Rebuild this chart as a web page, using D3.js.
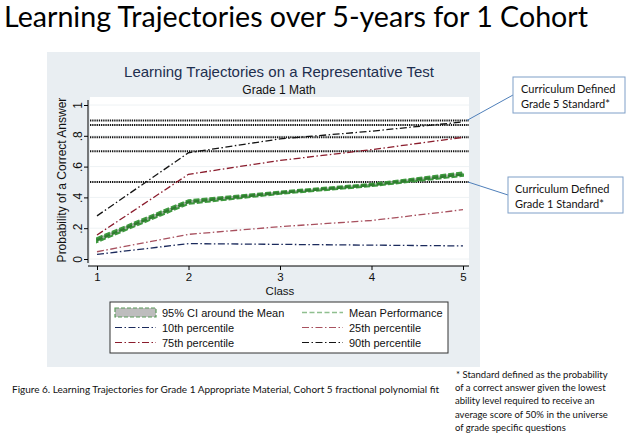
<!DOCTYPE html>
<html>
<head>
<meta charset="utf-8">
<script src="https://cdn.jsdelivr.net/npm/d3@7"></script>
<style>
  body { margin: 0; background: #fff; }
  svg { display: block; }
  .sans { font-family: "Liberation Sans", Arial, sans-serif; }
  .cal { font-family: Lato, "Open Sans", sans-serif; }
</style>
</head>
<body>
<svg id="chart" width="640" height="434"></svg>
<script>
// data
var classes = [1, 2, 3, 4, 5];
var p10 = [0.030, 0.100, 0.095, 0.090, 0.085];
var p25 = [0.047, 0.160, 0.210, 0.250, 0.320];
var meanPerf = [0.123, 0.370, 0.430, 0.480, 0.550];
var ciLow = [0.110, 0.358, 0.423, 0.473, 0.540];
var ciHigh = [0.136, 0.382, 0.438, 0.488, 0.562];
var p75 = [0.156, 0.550, 0.640, 0.710, 0.790];
var p90 = [0.280, 0.690, 0.780, 0.830, 0.890];
var standards = [0.90, 0.87, 0.79, 0.70, 0.50];
var yTicks = [0, 0.2, 0.4, 0.6, 0.8, 1];
var legendLabels = ["95% CI around the Mean", "Mean Performance", "10th percentile",
                    "25th percentile", "75th percentile", "90th percentile"];

var svg = d3.select("#chart");

// plot region
var plot = { left: 90, right: 469, top: 97, bottom: 266 };
var x = d3.scaleLinear().domain([1, 5]).range([97, 463]);
var y = d3.scaleLinear().domain([0, 1]).range([259, 105]);

// slide title
svg.append("text").attr("class", "cal")
  .attr("x", 4).attr("y", 27)
  .attr("textLength", 584).attr("lengthAdjust", "spacingAndGlyphs")
  .style("font-size", "28px").style("fill", "#000")
  .text("Learning Trajectories over 5-years for 1 Cohort");

// graph panel
svg.append("rect").attr("x", 47).attr("y", 52).attr("width", 433).attr("height", 315)
  .style("fill", "#e9eef2");
svg.append("rect").attr("x", plot.left).attr("y", plot.top)
  .attr("width", plot.right - plot.left).attr("height", plot.bottom - plot.top)
  .style("fill", "#fff");

svg.append("text").attr("class", "sans")
  .attr("x", 279).attr("y", 77).attr("text-anchor", "middle")
  .style("font-size", "15px").style("fill", "#1e2f4f")
  .text("Learning Trajectories on a Representative Test");
svg.append("text").attr("class", "sans")
  .attr("x", 279).attr("y", 94).attr("text-anchor", "middle")
  .style("font-size", "12px").style("fill", "#111")
  .text("Grade 1 Math");

// gridlines
svg.append("g").selectAll("line").data(yTicks).join("line")
  .attr("x1", plot.left).attr("x2", plot.right)
  .attr("y1", function(d) { return y(d); }).attr("y2", function(d) { return y(d); })
  .style("stroke", "#eef2f4").style("stroke-width", 1);

// axes
var yAxis = d3.axisLeft(y).tickValues(yTicks).tickSizeInner(4).tickSizeOuter(0)
  .tickFormat(function(d) { return d === 0 ? "0" : d === 1 ? "1" : d3.format(".1f")(d).replace(/^0/, ""); });
var gy = svg.append("g").attr("transform", "translate(88,0)").call(yAxis);
gy.select(".domain").remove();
gy.selectAll(".tick text").attr("class", "sans")
  .attr("x", -6.5).attr("y", 0).attr("dy", null)
  .attr("transform", "rotate(-90,-6.5,0)")
  .attr("text-anchor", "middle").style("font-size", "12px").style("fill", "#111");
svg.append("line").attr("x1", 88).attr("x2", 88).attr("y1", 100).attr("y2", 263)
  .style("stroke", "#000");

var xAxis = d3.axisBottom(x).tickValues(classes).tickSizeInner(4).tickSizeOuter(0).tickPadding(3)
  .tickFormat(d3.format("d"));
var gx = svg.append("g").attr("transform", "translate(0," + plot.bottom + ")").call(xAxis);
gx.select(".domain").remove();
gx.selectAll("text").attr("class", "sans").style("font-size", "11.5px").style("fill", "#111");
svg.append("line").attr("x1", 88).attr("x2", plot.right).attr("y1", plot.bottom).attr("y2", plot.bottom)
  .style("stroke", "#000");
svg.selectAll(".tick line").style("stroke", "#000");

svg.append("text").attr("class", "sans")
  .attr("x", 280).attr("y", 295).attr("text-anchor", "middle")
  .style("font-size", "11.5px").style("fill", "#111").text("Class");
svg.append("text").attr("class", "sans")
  .attr("transform", "translate(66,180) rotate(-90)").attr("text-anchor", "middle")
  .style("font-size", "12px").style("fill", "#111").text("Probability of a Correct Answer");

// standards reference lines
svg.append("g").selectAll("line").data(standards).join("line")
  .attr("x1", plot.left).attr("x2", plot.right)
  .attr("y1", function(d) { return y(d); }).attr("y2", function(d) { return y(d); })
  .style("stroke", "#111").style("stroke-width", 2).style("stroke-dasharray", "1.3,0.9");

// CI band + mean
var pts = function(arr) { return arr.map(function(v, i) { return [classes[i], v]; }); };
var line = d3.line().x(function(d) { return x(d[0]); }).y(function(d) { return y(d[1]); });
var area = d3.area()
  .x(function(d, i) { return x(classes[i]); })
  .y0(function(d, i) { return y(ciLow[i]); })
  .y1(function(d, i) { return y(ciHigh[i]); });

svg.append("path").datum(classes).attr("d", area)
  .style("fill", "#a8b4a8").style("stroke", "#3f9a3f").style("stroke-width", 2)
  .style("stroke-dasharray", "6,2");
svg.append("path").datum(pts(meanPerf)).attr("d", line)
  .style("fill", "none").style("stroke", "#2e7d2e").style("stroke-width", 2.5)
  .style("stroke-dasharray", "6,2");

var series = [
  { vals: p10, color: "#1b2a5c" },
  { vals: p25, color: "#a8515f" },
  { vals: p75, color: "#8a1c2c" },
  { vals: p90, color: "#141414" }
];
svg.append("g").selectAll("path").data(series).join("path")
  .attr("d", function(d) { return line(pts(d.vals)); })
  .style("fill", "none").style("stroke", function(d) { return d.color; })
  .style("stroke-width", 1.3).style("stroke-dasharray", "7,2.5,1.5,2.5");

// legend
var lg = svg.append("g");
lg.append("rect").attr("x", 110).attr("y", 302).attr("width", 338).attr("height", 51)
  .style("fill", "#fff").style("stroke", "#333").style("stroke-width", 1);
var legendItems = [
  { kind: "ci", color: "#5a9a5a" },
  { kind: "line", color: "#8fbf8f", dash: "5,2.5", w: 1.6 },
  { kind: "line", color: "#1b2a5c", dash: "7,2.5,1.5,2.5", w: 1.2 },
  { kind: "line", color: "#a8515f", dash: "7,2.5,1.5,2.5", w: 1.2 },
  { kind: "line", color: "#8a1c2c", dash: "7,2.5,1.5,2.5", w: 1.2 },
  { kind: "line", color: "#141414", dash: "7,2.5,1.5,2.5", w: 1.2 }
];
legendItems.forEach(function(it, i) {
  var col = i % 2, row = Math.floor(i / 2);
  var sx = col === 0 ? 115 : 302, cy = 312.5 + row * 15;
  if (it.kind === "ci") {
    lg.append("rect").attr("x", sx).attr("y", cy - 4.5).attr("width", 41).attr("height", 9)
      .style("fill", "#bdbdbd").style("stroke", it.color).style("stroke-width", 1.2)
      .style("stroke-dasharray", "4,2");
  } else {
    lg.append("line").attr("x1", sx).attr("x2", sx + 41).attr("y1", cy).attr("y2", cy)
      .style("stroke", it.color).style("stroke-width", it.w).style("stroke-dasharray", it.dash);
  }
  lg.append("text").attr("class", "sans").attr("x", col === 0 ? 162 : 349).attr("y", cy + 4)
    .style("font-size", "11px").style("fill", "#111").text(legendLabels[i]);
});

// callouts
var callouts = [
  { box: [513, 77, 112, 36], lines: ["Curriculum Defined", "Grade 5 Standard*"], tx: 521,
    from: [513, 95], to: [x(5) + 4, y(standards[0])] },
  { box: [508, 177, 115, 36], lines: ["Curriculum Defined", "Grade 1 Standard*"], tx: 515,
    from: [508, 195], to: [x(5) + 5, y(standards[4])] }
];
callouts.forEach(function(c) {
  svg.append("line").attr("x1", c.from[0]).attr("y1", c.from[1])
    .attr("x2", c.to[0]).attr("y2", c.to[1])
    .style("stroke", "#4f7fba").style("stroke-width", 1);
  svg.append("rect").attr("x", c.box[0]).attr("y", c.box[1])
    .attr("width", c.box[2]).attr("height", c.box[3])
    .style("fill", "#fff").style("stroke", "#7f9fc8").style("stroke-width", 1);
  c.lines.forEach(function(t, j) {
    svg.append("text").attr("class", "cal").attr("x", c.tx).attr("y", c.box[1] + 16 + j * 14.5)
      .style("font-size", "11px").style("fill", "#111").text(t);
  });
});

// footnotes
svg.append("text").attr("class", "cal").attr("x", 12).attr("y", 393)
  .attr("textLength", 427).attr("lengthAdjust", "spacingAndGlyphs")
  .style("font-size", "9.5px").style("fill", "#111")
  .text("Figure 6. Learning Trajectories for Grade 1 Appropriate Material, Cohort 5 fractional polynomial fit");
var note = ["* Standard defined as the probability", "of a correct answer given the lowest",
            "ability level required to receive an", "average score of 50% in the universe",
            "of grade specific questions"];
note.forEach(function(t, i) {
  svg.append("text").attr("class", "cal").attr("x", i === 0 ? 456 : 455).attr("y", 377.5 + i * 13.4)
    .style("font-size", "9.5px").style("fill", "#111").text(t);
});
</script>
</body>
</html>
